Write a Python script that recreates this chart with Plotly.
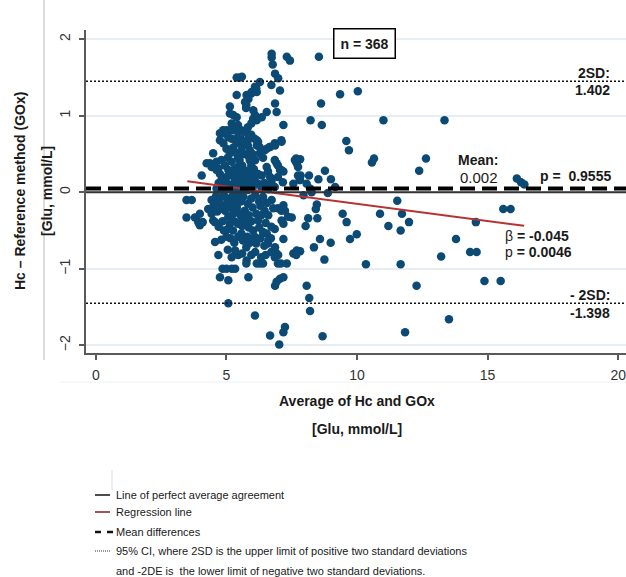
import plotly.graph_objects as go

# ---------------- data ----------------
avg_a = [8.54, 9.35, 10.03, 8.62, 8.22, 8.65, 11.01, 9.59, 9.69, 10.65,
         10.57, 7.82, 8.77, 8.52, 8.16, 7.84, 9.00, 9.16, 8.07, 8.20,
         8.26, 8.88, 12.38, 11.54, 8.46, 8.42, 9.45, 9.60, 10.88, 11.72,
         11.99, 11.20, 11.67, 8.13, 8.48, 8.03, 9.73, 9.99, 8.58, 8.99,
         8.35, 7.82, 8.75, 10.34, 11.67, 8.07, 8.17, 8.20, 12.28, 8.68,
         11.84, 13.35, 12.64, 16.12, 16.28, 16.41, 15.60, 15.88, 14.55, 13.79,
         14.33, 14.58, 13.22, 14.88, 15.50, 13.52]
diff_a = [1.77, 1.28, 1.32, 1.16, 0.94, 0.88, 0.94, 0.67, 0.55, 0.44,
          0.39, 0.43, 0.28, 0.17, 0.22, 0.22, 0.17, 0.07, 0.11, 0.05,
          0.00, -0.01, 0.28, -0.11, -0.16, -0.22, -0.28, -0.39, -0.28, -0.28,
          -0.39, -0.44, -0.50, -0.34, -0.34, -0.44, -0.61, -0.55, -0.61, -0.66,
          -0.72, -0.77, -0.88, -0.94, -0.94, -1.22, -1.38, -1.55, -1.22, -1.88,
          -1.83, 0.94, 0.44, 0.18, 0.13, 0.10, -0.22, -0.22, -0.39, -0.61,
          -0.78, -0.78, -0.84, -1.16, -1.16, -1.66]

avg_b = [6.73, 6.73, 6.77, 7.31, 7.43, 5.39, 5.52, 6.28, 6.86, 6.98,
         6.09, 6.16, 7.05, 5.39, 5.77, 5.84, 5.71, 5.75, 5.96, 6.86,
         6.54, 6.92, 5.13, 5.13, 5.39, 6.03, 6.09, 6.16, 6.35, 6.72,
         5.59, 5.95, 6.14, 5.82, 5.76, 6.02, 5.95, 5.82, 5.70, 5.57,
         5.44, 5.44, 5.26, 5.20, 5.33, 4.87, 5.00, 5.13, 5.26, 5.39]
diff_b = [1.81, 1.76, 1.67, 1.77, 1.72, 1.50, 1.50, 1.44, 1.55, 1.49,
          1.38, 1.31, 1.33, 1.27, 1.27, 1.22, 1.18, 1.10, 1.31, 1.16,
          1.05, 1.05, 1.12, 1.03, 0.98, 1.07, 1.01, 0.94, 0.98, 1.40,
          1.51, 1.29, 1.36, 1.25, 1.14, 0.96, 0.90, 0.85, 0.79, 0.81,
          0.72, 0.88, 1.01, 0.90, 0.85, 0.81, 0.81, 0.81, 0.81, 0.81]

avg_c = [4.75, 4.75, 5.80, 7.18, 6.16, 6.16, 6.67, 6.86, 7.11, 6.54,
         4.49, 4.24, 4.62, 4.69, 4.75, 4.05, 6.28, 6.92, 7.62, 7.69,
         6.54, 6.67, 6.73, 7.05, 7.18, 7.56, 6.16, 6.08, 6.21, 6.27,
         7.10, 6.85, 6.65, 6.46, 5.82, 5.82, 5.89, 5.44, 5.57, 7.67,
         7.74, 6.85, 6.97, 7.10, 5.82, 5.89, 5.95, 5.44, 5.44, 5.57,
         6.59, 6.21, 6.08, 5.95, 5.70, 5.57, 6.97, 7.16, 7.74, 7.80,
         6.72, 6.85, 6.21, 6.33, 5.70, 5.82, 4.94, 5.07, 4.88, 5.00,
         5.13, 4.37, 4.43, 4.62, 4.81, 4.94, 5.07, 5.20, 5.33, 4.81,
         4.94, 4.62, 5.33, 5.39, 7.82]
diff_c = [0.77, 0.68, 0.77, 0.88, 0.68, 0.61, 0.59, 0.61, 0.66, 0.57,
          0.51, 0.38, 0.40, 0.31, 0.24, 0.22, 0.51, 0.38, 0.42, 0.38,
          0.33, 0.20, 0.16, 0.29, 0.27, 0.11, 0.24, 0.70, 0.66, 0.59,
          0.68, 0.64, 0.59, 0.55, 0.68, 0.61, 0.55, 0.64, 0.55, 0.44,
          0.33, 0.42, 0.35, 0.29, 0.48, 0.42, 0.35, 0.46, 0.33, 0.27,
          0.27, 0.24, 0.20, 0.16, 0.20, 0.13, 0.20, 0.13, 0.22, 0.16,
          0.11, 0.07, 0.11, 0.07, 0.07, 0.03, 0.77, 0.72, 0.64, 0.57,
          0.51, 0.38, 0.33, 0.29, 0.42, 0.35, 0.29, 0.22, 0.16, 0.16,
          0.09, 0.05, 0.68, 0.51, 0.16]

avg_d = [3.47, 3.67, 3.47, 3.79, 3.98, 4.09, 3.98, 4.49, 4.49, 4.56,
         4.69, 4.75, 5.07, 4.85, 5.00, 5.33, 5.07, 5.84, 5.77, 6.16,
         6.28, 6.09, 6.67, 7.02, 7.18, 7.24, 6.86, 6.92, 7.05, 7.18,
         6.98, 7.08, 7.31, 7.18, 6.54, 6.60, 6.86, 6.92, 7.50, 7.56,
         7.69, 7.11, 7.18, 6.73, 6.79, 7.18, 7.24, 7.95, 6.97, 7.10,
         7.36, 6.72, 6.85, 6.46, 6.33, 6.21, 6.14, 5.82, 5.70, 5.57,
         5.44, 5.57, 5.63, 5.76, 6.02, 6.08, 6.14, 6.59, 6.72, 7.67,
         6.85, 6.97, 6.33, 6.40, 5.76, 4.43, 4.56, 3.92, 4.43, 4.56,
         4.94, 5.07, 5.13, 5.00, 5.33, 5.45, 5.20]
diff_d = [-0.10, -0.10, -0.33, -0.33, -0.28, -0.39, -0.43, -0.19, -0.37, -0.65,
          -0.82, -1.11, -1.15, -1.00, -1.00, -1.00, -1.45, -1.11, -0.89, -0.93,
          -0.93, -1.61, -1.87, -1.99, -1.83, -1.76, -1.22, -1.17, -1.13, -1.11,
          -0.82, -0.93, -0.93, -0.61, -0.54, -0.63, -0.72, -0.80, -0.33, -0.80,
          -0.76, -0.37, -0.41, -0.10, -0.21, -0.17, -0.24, -0.04, -0.21, -0.24,
          -0.32, -0.45, -0.48, -0.24, -0.30, -0.37, -0.28, -0.15, -0.24, -0.32,
          -0.41, -0.54, -0.63, -0.72, -0.50, -0.58, -0.67, -0.67, -0.78, -0.82,
          -0.85, -0.93, -0.85, -0.93, -0.93, -0.10, -0.15, -0.39, -0.28, -0.39,
          -0.24, -0.32, -0.41, -0.58, -0.76, -0.82, -1.00]

avg_e = [5.00, 5.15, 5.30, 5.45, 5.60, 5.75, 5.90, 6.05, 6.35, 4.70,
         4.85, 5.00, 5.10, 5.20, 5.35, 5.45, 5.60, 5.85, 6.00, 6.10,
         6.45, 6.60, 4.60, 4.75, 4.90, 5.05, 5.20, 5.30, 5.45, 5.55,
         5.65, 5.95, 6.10, 6.25, 6.40, 6.55, 4.30, 4.65, 4.80, 5.00,
         5.15, 5.25, 5.40, 5.50, 5.85, 6.00, 6.30, 6.60, 4.70, 4.85,
         4.90, 5.05, 5.25, 5.30, 5.60, 5.70, 5.85, 5.95, 6.25, 6.40,
         6.50, 4.80, 5.15, 5.30, 5.45, 5.80, 5.90, 6.30, 6.45, 6.70,
         5.05, 5.20, 5.60, 5.95, 6.10, 6.50, 5.05, 5.20, 5.25, 5.50,
         5.65, 5.70, 6.00, 6.10, 6.40, 5.20, 5.55, 5.95]
diff_e = [0.20, 0.25, 0.30, 0.22, 0.35, 0.28, 0.25, 0.30, 0.22, 0.12,
          0.02, 0.12, 0.05, 0.10, 0.02, 0.10, 0.05, 0.12, 0.06, 0.14,
          0.12, 0.04, -0.05, -0.08, -0.04, -0.10, -0.06, -0.12, -0.04, -0.12,
          -0.06, -0.08, -0.04, -0.12, -0.06, -0.14, -0.22, -0.25, -0.18, -0.15,
          -0.20, -0.28, -0.20, -0.28, -0.30, -0.20, -0.18, -0.30, -0.45, -0.38,
          -0.50, -0.48, -0.50, -0.38, -0.44, -0.38, -0.46, -0.38, -0.46, -0.52,
          -0.40, -0.62, -0.60, -0.66, -0.58, -0.58, -0.66, -0.60, -0.70, -0.60,
          -0.75, -0.85, -0.80, -0.82, -0.78, -0.82, 0.45, 0.40, 0.58, 0.42,
          0.50, 0.62, 0.50, 0.42, 0.45, 0.70, 0.70, 0.75]

avg_glu = avg_a + avg_b + avg_c + avg_d + avg_e
diff_glu = diff_a + diff_b + diff_c + diff_d + diff_e

zero_line = 0.0
mean_line = 0.05
upper_sd_line = 1.45
lower_sd_line = -1.45
reg_x = [3.5, 16.4]
reg_intercept = 0.30
reg_slope = -0.045
reg_y = [reg_intercept + reg_slope * v for v in reg_x]

x_ticks = [0, 5, 10, 15, 20]
y_ticks = [-2, -1, 0, 1, 2]

legend_items = ["Line of perfect average agreement",
                "Regression line",
                "Mean differences",
                "95% CI, where 2SD is the upper limit of positive two standard deviations",
                "and -2DE is  the lower limit of negative two standard deviations."]

# ---------------- layout helpers ----------------
W, H = 626, 577
ML, MR, MT, MB = 86, 0, 30, 224
PW, PH = W - ML - MR, H - MT - MB


def fx(px):
    return (px - ML) / PW


def fy(py):
    return (H - MB - py) / PH


FONT = "Liberation Sans, Arial, sans-serif"
TXT = "#1a1a1a"

fig = go.Figure()
fig.add_trace(go.Scatter(x=avg_glu, y=diff_glu, mode="markers",
                         marker=dict(color="#0c4a76", size=8.5, line=dict(width=0)),
                         showlegend=False, hoverinfo="skip"))
fig.add_trace(go.Scatter(x=reg_x, y=reg_y, mode="lines",
                         line=dict(color="#b83232", width=2), showlegend=False, hoverinfo="skip"))

shapes = []
for yv, dash, wd, col in [(upper_sd_line, "2px,2px", 1.6, "#111"),
                          (lower_sd_line, "2px,2px", 1.6, "#111"),
                          (zero_line, "solid", 2, "#333"),
                          (mean_line, "15px,7px", 4, "#000")]:
    shapes.append(dict(type="line", xref="x domain", yref="y", x0=0, x1=1, y0=yv, y1=yv,
                       line=dict(color=col, width=wd, dash=dash), layer="above"))

# decorative frame lines from the source image
shapes.append(dict(type="line", xref="paper", yref="paper", x0=fx(44), x1=fx(44), y0=fy(0), y1=fy(360),
                   line=dict(color="#b8b8b8", width=1)))
shapes.append(dict(type="line", xref="paper", yref="paper", x0=fx(60), x1=fx(626), y0=fy(382), y1=fy(382),
                   line=dict(color="#eef0f2", width=1)))
shapes.append(dict(type="line", xref="paper", yref="paper", x0=fx(112), x1=fx(112), y0=fy(470), y1=fy(490),
                   line=dict(color="#dddddd", width=1)))

# legend swatches
leg_y = [495, 512, 532, 551, 571]
shapes.append(dict(type="line", xref="paper", yref="paper", x0=fx(95), x1=fx(110), y0=fy(leg_y[0]), y1=fy(leg_y[0]),
                   line=dict(color="#111", width=1.5)))
shapes.append(dict(type="line", xref="paper", yref="paper", x0=fx(95), x1=fx(110), y0=fy(leg_y[1]), y1=fy(leg_y[1]),
                   line=dict(color="#8b1a1a", width=1.5)))
shapes.append(dict(type="line", xref="paper", yref="paper", x0=fx(95), x1=fx(114), y0=fy(leg_y[2]), y1=fy(leg_y[2]),
                   line=dict(color="#111", width=2.5, dash="6px,6px")))
shapes.append(dict(type="line", xref="paper", yref="paper", x0=fx(95), x1=fx(110), y0=fy(leg_y[3]), y1=fy(leg_y[3]),
                   line=dict(color="#333", width=1, dash="1px,1px")))

ann = []


def add_text(text, px, py, size=14, anchor="center", family=FONT, angle=0, **kw):
    ann.append(dict(text=text, x=fx(px), y=fy(py), xref="paper", yref="paper", showarrow=False,
                    xanchor=anchor, yanchor="middle", textangle=angle,
                    font=dict(family=family, size=size, color=TXT), **kw))


add_text("<b>n = 368</b>", 364, 43, size=14, bordercolor="#000", borderwidth=1.5, borderpad=6,
         bgcolor="white")
add_text("<b>2SD:</b>", 612, 73, anchor="right")
add_text("<b>1.402</b>", 612, 90, anchor="right")
add_text("<b>Mean:</b>", 478, 160)
add_text("0.002", 479, 177, size=15)
add_text("<b>p =  0.9555</b>", 575, 176)
add_text("β <b>= -0.045</b>", 503, 236, anchor="left")
add_text("p <b>= 0.0046</b>", 503, 252, anchor="left")
add_text("<b>- 2SD:</b>", 612, 295, anchor="right")
add_text("<b>-1.398</b>", 612, 313, anchor="right")

add_text("<b>Hc – Reference method (GOx)</b>", 20, 191, angle=-90)
add_text("<b>[Glu, mmol/L]</b>", 47, 191, angle=-90)
add_text("<b>Average of Hc and GOx</b>", 357, 401)
add_text("<b>[Glu, mmol/L]</b>", 357, 429)

for t, yy in zip(legend_items, leg_y):
    add_text(t, 114, yy, size=11, anchor="left")

fig.update_layout(
    width=W, height=H,
    margin=dict(l=ML, r=MR, t=MT, b=MB, pad=0),
    paper_bgcolor="white", plot_bgcolor="white",
    shapes=shapes, annotations=ann,
    font=dict(family=FONT, size=14, color="#333"),
    xaxis=dict(range=[-0.38, 20.3], tickvals=x_ticks, showgrid=False, zeroline=False,
               showline=True, linecolor="#5a5a5a", linewidth=1.5,
               ticks="outside", ticklen=5, tickwidth=1.5, tickcolor="#5a5a5a",
               tickfont=dict(size=14, color="#333"), ticklabelstandoff=3,
               ticklabeloverflow="allow"),
    yaxis=dict(range=[-2.1, 2.12], tickvals=y_ticks, showgrid=True, gridcolor="#e6eef3", gridwidth=1.5,
               zeroline=False, showline=True, linecolor="#5a5a5a", linewidth=1.5,
               ticks="outside", ticklen=5, tickwidth=1.5, tickcolor="#5a5a5a",
               tickangle=-90, tickfont=dict(size=14, color="#333"), ticklabelstandoff=4),
)

fig.write_html("out.html")
